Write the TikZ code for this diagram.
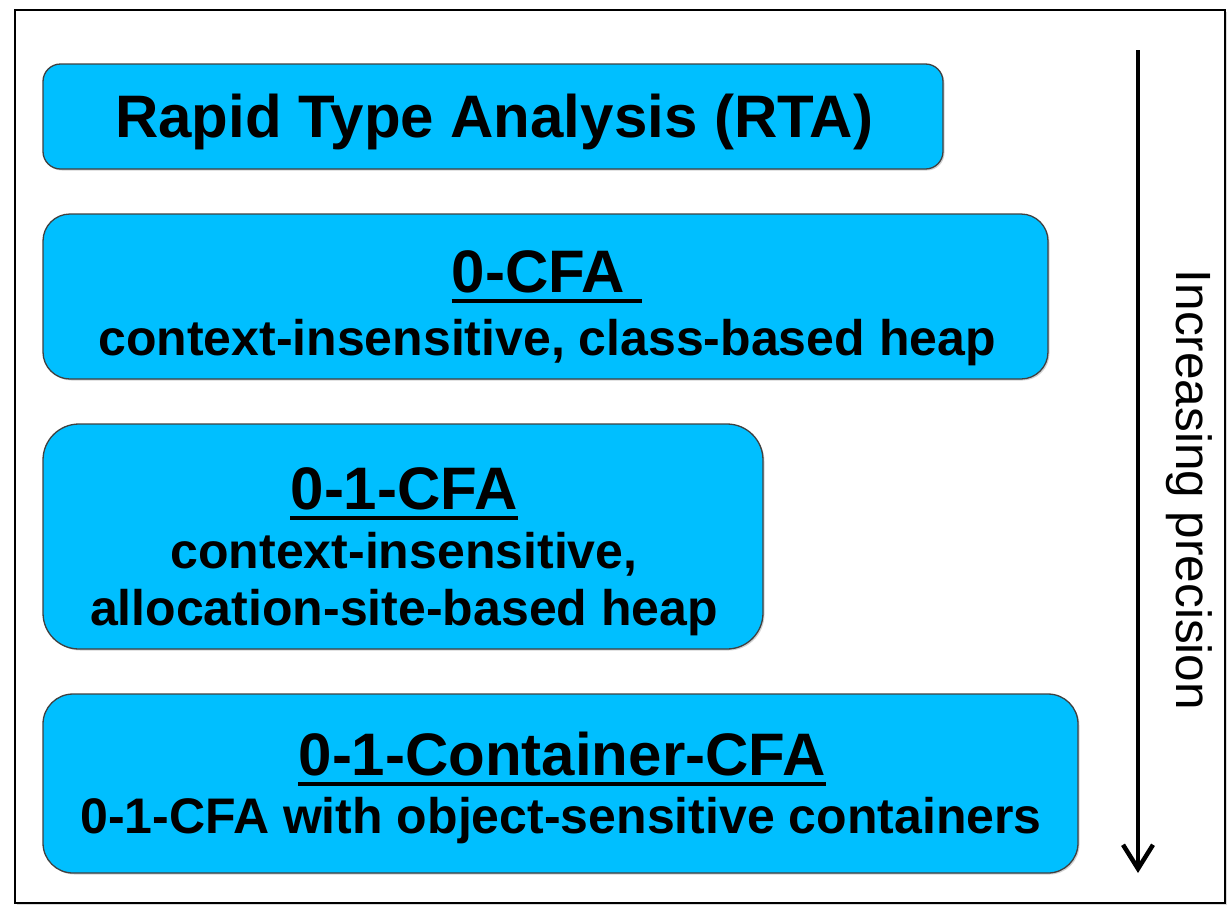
\documentclass[tikz,border=0pt]{standalone}
\usepackage{fontspec}
\setmainfont{Liberation Sans}
\usetikzlibrary{arrows.meta,shadows}
\definecolor{boxfill}{RGB}{0,191,255}
\begin{document}
\begin{tikzpicture}[x=1pt,y=-1pt,
  levelbox/.style={draw=black!75, line width=1.3pt, fill=boxfill, inner sep=0pt,
    drop shadow={shadow xshift=1.5pt, shadow yshift=-1.5pt, opacity=0.35}},
  heading/.style={anchor=base, inner sep=0pt, font=\fontsize{60}{62}\selectfont\bfseries},
  detail/.style={anchor=base, inner sep=0pt, font=\fontsize{50}{52}\selectfont\bfseries},
  uline/.style={line width=4pt}]
\useasboundingbox (0,0) rectangle (1230,908);
% outer frame
\draw[line width=2pt, fill=white,
  drop shadow={shadow xshift=2pt, shadow yshift=-2pt, opacity=0.3}] (15,10) rectangle (1225,903);

% analysis levels
\node[levelbox, rounded corners=17.5pt, minimum width=900pt, minimum height=105pt] (rta) at (493,116.5) {};
\node[levelbox, rounded corners=27pt, minimum width=1005pt, minimum height=165pt] (cfa) at (545.5,296.5) {};
\node[levelbox, rounded corners=36pt, minimum width=720pt, minimum height=225pt] (ocfa) at (403,536.5) {};
\node[levelbox, rounded corners=30pt, minimum width=1035pt, minimum height=179pt] (ccfa) at (560.5,783.5) {};

% labels
\node[heading] (rtaT) at (494,137) {Rapid Type Analysis (RTA)};

\node[heading] (cfaT) at (547,292) {0-CFA\hspace{0.28em}\mbox{}};
\draw[uline] ([yshift=-9pt]cfaT.base west) -- ([yshift=-9pt]cfaT.base east);
\node[detail] (cfaD) at (547,355) {context-insensitive, class-based heap};

\node[heading] (ocfaT) at (404,509) {0-1-CFA};
\draw[uline] ([yshift=-9pt]ocfaT.base west) -- ([yshift=-9pt]ocfaT.base east);
\node[detail] (ocfaD1) at (404,568) {context-insensitive,};
\node[detail] (ocfaD2) at (404,625) {allocation-site-based heap};

\node[heading] (ccfaT) at (562,775) {0-1-Container-CFA};
\draw[uline] ([yshift=-9pt]ccfaT.base west) -- ([yshift=-9pt]ccfaT.base east);
\node[detail] (ccfaD) at (561,833) {0-1-CFA with object-sensitive containers};

% precision axis
\coordinate (axTop) at (1138,50);
\coordinate (axBot) at (1138,873);
\draw[line width=4.5pt, -{Straight Barb[length=24pt,width=30pt]}] (axTop) -- (axBot);
\node[rotate=-90, inner sep=0pt, font=\fontsize{49.5}{52}\selectfont] (prec) at (1189,490) {Increasing precision};
\end{tikzpicture}
\end{document}
